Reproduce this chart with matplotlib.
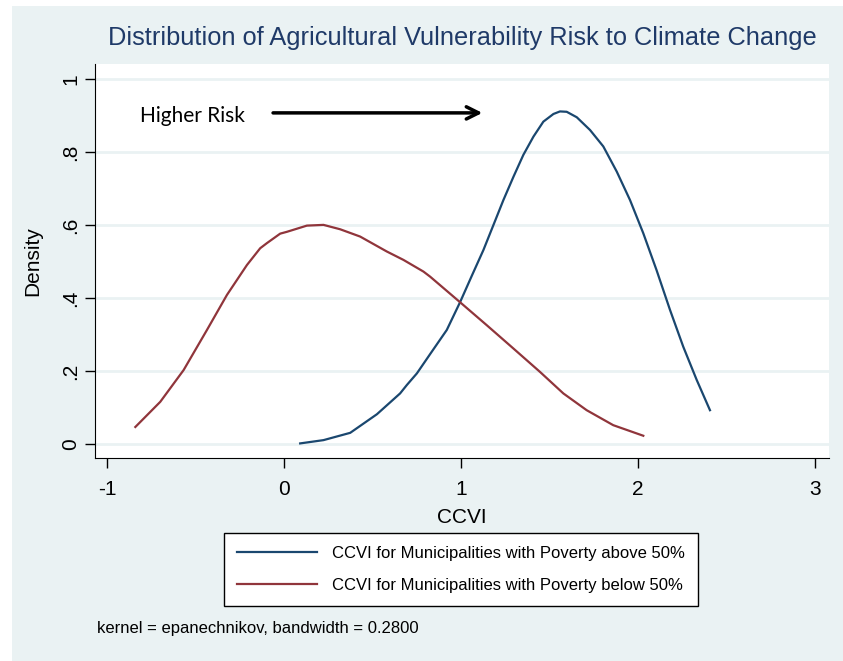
import numpy as np
import matplotlib
matplotlib.use("Agg")
import matplotlib.pyplot as plt
from matplotlib.patches import Rectangle

# kernel density curves
above_x = [0.090, 0.222, 0.373, 0.524, 0.655, 0.693, 0.750, 0.825, 0.919, 0.994, 1.060,
           1.126, 1.183, 1.239, 1.296, 1.352, 1.409, 1.465, 1.522, 1.559, 1.597, 1.654,
           1.729, 1.804, 1.880, 1.955, 2.030, 2.105, 2.181, 2.256, 2.332, 2.407]
above_y = [0.002, 0.011, 0.031, 0.082, 0.139, 0.162, 0.194, 0.247, 0.313, 0.389, 0.461,
           0.532, 0.601, 0.669, 0.733, 0.793, 0.843, 0.884, 0.905, 0.912, 0.911, 0.896,
           0.861, 0.816, 0.747, 0.669, 0.578, 0.477, 0.368, 0.267, 0.176, 0.093]
below_x = [-0.842, -0.701, -0.569, -0.437, -0.324, -0.211, -0.136, -0.098, -0.023, 0.015,
           0.128, 0.222, 0.316, 0.429, 0.580, 0.674, 0.787, 0.825, 0.994, 1.145, 1.296,
           1.446, 1.578, 1.710, 1.860, 2.030]
below_y = [0.047, 0.116, 0.203, 0.313, 0.409, 0.491, 0.537, 0.551, 0.577, 0.582,
           0.599, 0.601, 0.589, 0.569, 0.528, 0.505, 0.473, 0.459, 0.389, 0.326, 0.262,
           0.198, 0.139, 0.093, 0.052, 0.023]

xticks = [-1, 0, 1, 2, 3]
yticks = [0, 0.2, 0.4, 0.6, 0.8, 1.0]
ytick_labels = ["0", ".2", ".4", ".6", ".8", "1"]

navy = "#1a476f"
maroon = "#90353b"
bg = "#eaf2f3"

plt.rcParams['font.family'] = ['Liberation Sans', 'DejaVu Sans']
plt.rcParams['axes.unicode_minus'] = False

fig = plt.figure(figsize=(8.43, 6.61), dpi=100)
fig.patch.set_facecolor("white")
fig.patches.append(Rectangle((12 / 843, -0.01), 1, 1.01 - 6 / 661, transform=fig.transFigure,
                             facecolor=bg, edgecolor="none", zorder=-10))

ax = fig.add_axes([95 / 843, 1 - 458 / 661, (829 - 95) / 843, (458 - 64) / 661])
ax.set_facecolor("white")

ax.plot(above_x, above_y, color=navy, lw=1.6, solid_joinstyle="round",
        label="CCVI for Municipalities with Poverty above 50%")
ax.plot(below_x, below_y, color=maroon, lw=1.6, solid_joinstyle="round",
        label="CCVI for Municipalities with Poverty below 50%")

ax.set_xlim(-1.07, 3.08)
ax.set_ylim(-0.038, 1.042)
ax.set_xticks(xticks)
ax.set_yticks(yticks)
ax.set_yticklabels(ytick_labels, rotation=90, va="center")
ax.tick_params(axis="both", direction="out", length=7, width=1, labelsize=15, colors="black")
ax.tick_params(axis="x", pad=9)
ax.grid(axis="y", color=bg, lw=2)
ax.set_axisbelow(True)
for s in ["top", "right"]:
    ax.spines[s].set_visible(False)

ax.set_xlabel("CCVI", fontsize=15, labelpad=6)
ax.set_ylabel("Density", fontsize=15, labelpad=14)

fig.text(462 / 843, 1 - 38 / 661, "Distribution of Agricultural Vulnerability Risk to Climate Change",
         ha="center", va="center", fontsize=18.3, color="#1f3a68")

ax.text(-0.814, 0.9, "Higher Risk", fontsize=15, family="Lato", ha="left", va="center")
ax.annotate("", xy=(1.136, 0.908), xytext=(-0.079, 0.908),
            arrowprops=dict(arrowstyle="->", lw=2.5, color="black", mutation_scale=22))

leg = fig.legend(loc="center", bbox_to_anchor=(461 / 843, 1 - 569.5 / 661), ncol=1,
                 fontsize=12, frameon=True, fancybox=False, edgecolor="black",
                 framealpha=1, handlelength=4.8, borderpad=0.8, labelspacing=1.0,
                 handletextpad=0.9)
leg.get_frame().set_linewidth(1)

fig.text(97 / 843, 1 - 628 / 661, "kernel = epanechnikov, bandwidth = 0.2800",
         ha="left", va="center", fontsize=12)

fig.savefig("out.png", dpi=100, facecolor=fig.get_facecolor())
